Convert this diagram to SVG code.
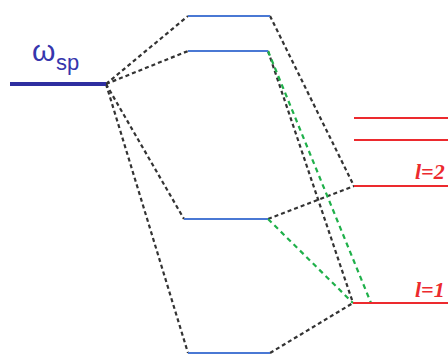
<svg xmlns="http://www.w3.org/2000/svg" width="448" height="356" viewBox="0 0 448 356">
  <style>
    .blue { stroke: #4a78d4; stroke-width: 2.2; }
    .red { stroke: #ec2a2e; stroke-width: 2.2; }
    .sp { stroke: #2e2ea0; stroke-width: 4; }
    .dk { stroke: #333; stroke-width: 2.2; stroke-dasharray: 4 3; fill: none; }
    .gr { stroke: #1fb04a; stroke-width: 2.2; stroke-dasharray: 5 4; fill: none; }
    .lab { font-family: "Liberation Serif", serif; font-style: italic; font-weight: bold; font-size: 22px; fill: #ec2a2e; }
    .om { font-family: "Liberation Sans", Arial, sans-serif; fill: #3636ad; }
  </style>
  <rect width="448" height="356" fill="#fff"/>

  <!-- connectors -->
  <g id="connectors">
    <line class="dk" x1="106" y1="84" x2="188" y2="16"/>
    <line class="dk" x1="106" y1="84" x2="188" y2="51"/>
    <line class="dk" x1="106" y1="84" x2="184" y2="219"/>
    <line class="dk" x1="106" y1="84" x2="188" y2="353"/>
    <line class="dk" x1="270" y1="16" x2="354" y2="186"/>
    <line class="dk" x1="268" y1="51" x2="353" y2="303"/>
    <line class="dk" x1="268" y1="219" x2="354" y2="186"/>
    <line class="dk" x1="270" y1="353" x2="353" y2="303"/>
    <line class="gr" x1="268" y1="51" x2="371" y2="303"/>
    <line class="gr" x1="268" y1="219" x2="353" y2="303"/>
  </g>

  <!-- surface plasmon level -->
  <g id="wsp">
    <line class="sp" x1="10" y1="84" x2="106" y2="84"/>
    <text class="om" x="32" y="61" font-size="30">ω</text>
    <text class="om" x="56" y="70" font-size="22">sp</text>
  </g>

  <!-- hybridized levels -->
  <g id="h1"><line class="blue" x1="188" y1="16" x2="270" y2="16"/></g>
  <g id="h2"><line class="blue" x1="188" y1="51" x2="268" y2="51"/></g>
  <g id="h3"><line class="blue" x1="184" y1="219" x2="268" y2="219"/></g>
  <g id="h4"><line class="blue" x1="188" y1="353" x2="270" y2="353"/></g>

  <!-- multipole levels -->
  <g id="l4"><line class="red" x1="354" y1="118" x2="448" y2="118"/></g>
  <g id="l3"><line class="red" x1="354" y1="140" x2="448" y2="140"/></g>
  <g id="l2">
    <line class="red" x1="354" y1="186" x2="448" y2="186"/>
    <text class="lab" x="415" y="179">l=2</text>
  </g>
  <g id="l1">
    <line class="red" x1="353" y1="303" x2="448" y2="303"/>
    <text class="lab" x="415" y="297">l=1</text>
  </g>
</svg>
